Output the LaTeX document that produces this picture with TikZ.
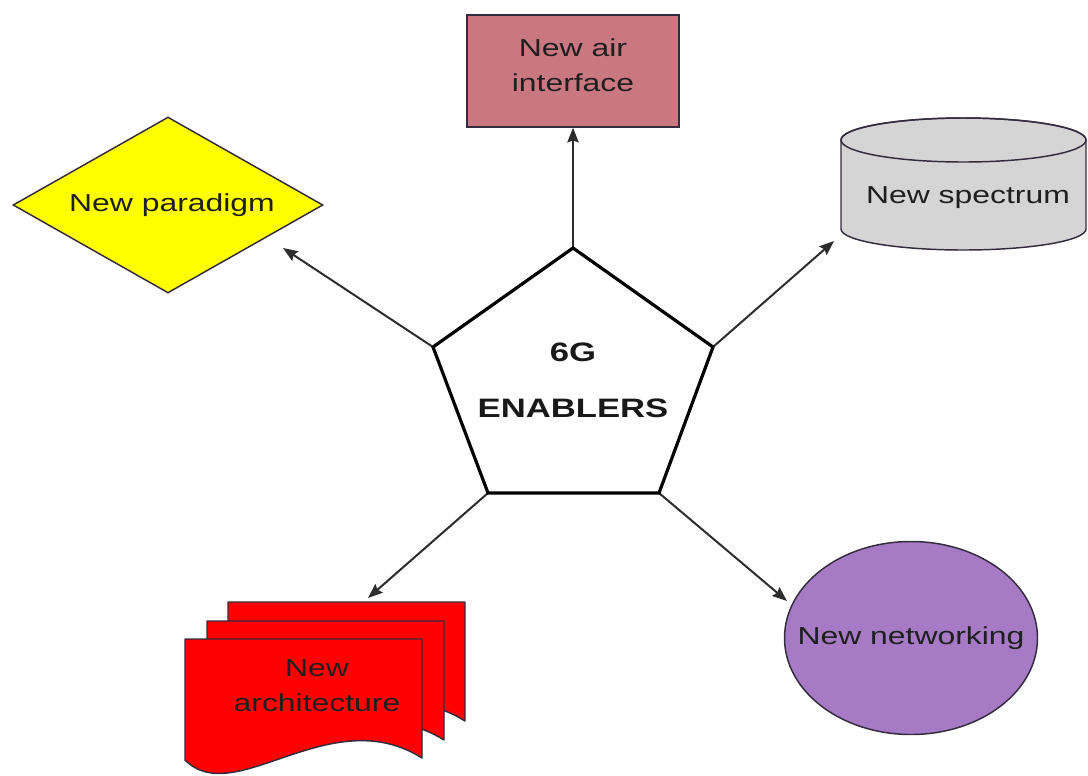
\documentclass[tikz,border=0pt]{standalone}
\usepackage{fontspec}
\setmainfont{Liberation Sans}[FakeStretch=1.3]
\usetikzlibrary{arrows.meta,shapes.geometric}

\definecolor{airfill}{RGB}{201,119,128}
\definecolor{specfill}{RGB}{213,213,213}
\definecolor{netfill}{RGB}{166,122,196}
\definecolor{parafill}{RGB}{255,255,0}
\definecolor{archfill}{RGB}{255,0,0}
\definecolor{edgecol}{RGB}{52,44,62}
\definecolor{linkcol}{RGB}{45,45,45}

\begin{document}
\begin{tikzpicture}[x=0.75pt,y=-0.75pt,
  lbl/.style={font=\fontsize{18.4}{26}\selectfont, text=black!88, align=center, inner sep=0pt},
  shapeline/.style={draw=edgecol, line width=1.1pt},
  link/.style={draw=linkcol, line width=1.5pt, -{Stealth[length=11pt,width=8.5pt,inset=1.5pt]}},
  docpage/.pic={
    \draw[shapeline, fill=archfill, line join=round]
      (0,0) -- (237,0) -- (237,119)
      .. controls (145,61) and (50,171) .. (0,121) -- cycle;
  },
]
\useasboundingbox (0,0) rectangle (1088,775);

% corners of the central pentagon
\coordinate (pT)  at (573,248);
\coordinate (pL)  at (433,347);
\coordinate (pR)  at (713,347);
\coordinate (pBL) at (488,493);
\coordinate (pBR) at (659,493);

% free ends of the connectors
\coordinate (paraTip) at (283,248);
\coordinate (specTip) at (834,241);
\coordinate (archTip) at (368,598);
\coordinate (netTip)  at (787,601);

% top: new air interface
\node[shapeline, fill=airfill, minimum width=159pt, minimum height=84pt, inner sep=0pt] (air) at (573,71) {};
\node[lbl] (airtext) at (573,65.5) {New air\\interface};

% left: new paradigm
\node[diamond, shapeline, fill=parafill, minimum width=232.5pt, minimum height=132pt, inner sep=0pt] (para) at (168,205) {};
\node[lbl] (paratext) at (172,205) {New paradigm};

% right: new spectrum (cylinder)
\draw[shapeline, fill=specfill]
  (841,140) -- (841,229)
  arc[start angle=180, end angle=0, x radius=122.5, y radius=21]
  -- (1086,140)
  arc[start angle=0, end angle=-180, x radius=122.5, y radius=22] -- cycle;
\draw[shapeline] (963.5,140) ellipse [x radius=122.5, y radius=22];
\node[lbl] (spectext) at (968,198) {New spectrum};

% bottom right: new networking
\node[ellipse, shapeline, fill=netfill, minimum width=189.75pt, minimum height=144.75pt, inner sep=0pt] (net) at (911,638) {};
\node[lbl] (nettext) at (911,638) {New networking};

% bottom left: new architecture (stacked documents)
\pic at (228,602) {docpage};
\pic at (207,621) {docpage};
\pic at (185,639) {docpage};
\node[lbl] (archtext) at (317,686) {New\\architecture};

% connectors
\draw[link] (pT)  -- (air.south);
\draw[link] (pL)  -- (paraTip);
\draw[link] (pR)  -- (specTip);
\draw[link] (pBL) -- (archTip);
\draw[link] (pBR) -- (netTip);

% centre: 6G enablers
\draw[line width=2.4pt, line join=miter, fill=white] (pT) -- (pR) -- (pBR) -- (pBL) -- (pL) -- cycle;
\node[font=\bfseries\fontsize{20}{42}\selectfont, align=center, text=black!90, inner sep=0pt] (core) at (573,380) {6G\\ENABLERS};
\end{tikzpicture}
\end{document}
